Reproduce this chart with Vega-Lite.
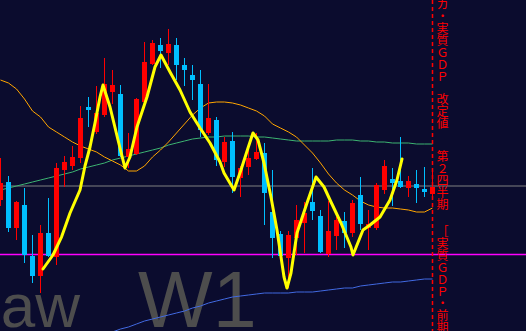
{
  "$schema": "https://vega.github.io/schema/vega-lite/v6.json",
  "width": 526,
  "height": 331,
  "padding": 0,
  "autosize": {"type": "none"},
  "background": "#0b0c2e",
  "config": {"view": {"stroke": null}, "scale": {"continuousPadding": 0}},
  "datasets": {
    "candles": [
      {"i":0,"open":140.00,"high":142.10,"low":139.70,"close":140.85},
      {"i":1,"open":140.90,"high":141.20,"low":138.40,"close":138.60},
      {"i":2,"open":138.60,"high":139.95,"low":138.00,"close":139.90},
      {"i":3,"open":139.75,"high":140.60,"low":136.85,"close":137.25},
      {"i":4,"open":137.20,"high":138.25,"low":135.85,"close":136.20},
      {"i":5,"open":136.20,"high":138.75,"low":135.35,"close":138.35},
      {"i":6,"open":138.35,"high":140.10,"low":137.15,"close":137.20},
      {"i":7,"open":137.15,"high":141.85,"low":136.75,"close":141.60},
      {"i":8,"open":141.50,"high":142.20,"low":140.65,"close":141.90},
      {"i":9,"open":141.70,"high":142.70,"low":141.50,"close":142.15},
      {"i":10,"open":142.10,"high":144.70,"low":141.85,"close":144.10},
      {"i":11,"open":144.65,"high":145.15,"low":143.65,"close":144.50},
      {"i":12,"open":143.40,"high":145.70,"low":143.30,"close":144.35},
      {"i":13,"open":144.25,"high":147.10,"low":144.15,"close":145.80},
      {"i":14,"open":145.40,"high":146.50,"low":144.80,"close":145.75},
      {"i":15,"open":145.30,"high":145.75,"low":142.15,"close":142.20},
      {"i":16,"open":142.15,"high":143.35,"low":141.60,"close":142.55},
      {"i":17,"open":142.30,"high":145.10,"low":142.25,"close":145.05},
      {"i":18,"open":144.90,"high":147.90,"low":144.75,"close":146.90},
      {"i":19,"open":146.80,"high":148.00,"low":146.75,"close":147.85},
      {"i":20,"open":147.75,"high":148.10,"low":146.60,"close":147.45},
      {"i":21,"open":147.35,"high":148.55,"low":146.75,"close":147.80},
      {"i":22,"open":147.75,"high":148.10,"low":146.00,"close":146.75},
      {"i":23,"open":146.75,"high":147.10,"low":145.70,"close":146.50},
      {"i":24,"open":146.25,"high":146.75,"low":145.00,"close":146.00},
      {"i":25,"open":145.80,"high":146.50,"low":143.15,"close":143.50},
      {"i":26,"open":143.35,"high":145.80,"low":143.25,"close":144.10},
      {"i":27,"open":144.00,"high":144.15,"low":141.70,"close":142.00},
      {"i":28,"open":141.90,"high":143.15,"low":141.65,"close":142.90},
      {"i":29,"open":142.95,"high":143.40,"low":140.35,"close":141.15},
      {"i":30,"open":141.10,"high":141.70,"low":140.15,"close":141.60},
      {"i":31,"open":141.65,"high":142.55,"low":141.25,"close":142.10},
      {"i":32,"open":142.05,"high":143.35,"low":142.00,"close":142.40},
      {"i":33,"open":142.35,"high":142.85,"low":138.75,"close":140.35},
      {"i":34,"open":139.40,"high":141.50,"low":137.10,"close":138.10},
      {"i":35,"open":138.30,"high":138.45,"low":137.10,"close":137.20},
      {"i":36,"open":137.10,"high":138.45,"low":135.60,"close":138.25},
      {"i":37,"open":138.10,"high":139.75,"low":137.25,"close":139.00},
      {"i":38,"open":138.85,"high":139.90,"low":137.35,"close":139.35},
      {"i":39,"open":139.90,"high":141.60,"low":139.00,"close":139.45},
      {"i":40,"open":139.20,"high":139.50,"low":137.35,"close":137.40},
      {"i":41,"open":137.30,"high":139.95,"low":137.15,"close":138.45},
      {"i":42,"open":138.20,"high":139.15,"low":137.50,"close":139.00},
      {"i":43,"open":138.95,"high":139.40,"low":137.60,"close":138.35},
      {"i":44,"open":138.35,"high":140.00,"low":138.15,"close":139.85},
      {"i":45,"open":140.25,"high":141.15,"low":138.50,"close":138.80},
      {"i":46,"open":138.60,"high":139.50,"low":137.50,"close":138.80},
      {"i":47,"open":138.60,"high":140.85,"low":138.50,"close":140.75},
      {"i":48,"open":140.50,"high":142.00,"low":140.30,"close":141.70},
      {"i":49,"open":141.05,"high":141.60,"low":139.70,"close":140.85},
      {"i":50,"open":140.95,"high":143.15,"low":140.60,"close":140.65},
      {"i":51,"open":140.60,"high":141.20,"low":140.15,"close":140.95},
      {"i":52,"open":140.80,"high":141.50,"low":139.85,"close":140.60},
      {"i":53,"open":140.55,"high":141.65,"low":140.15,"close":140.40},
      {"i":54,"open":140.30,"high":141.40,"low":140.20,"close":140.65}
    ],
    "ma": [
      {"i":0,"ma_short":146.00,"ma_mid":140.50,"ma_long":null},
      {"i":1,"ma_short":145.85,"ma_mid":140.60,"ma_long":null},
      {"i":2,"ma_short":145.55,"ma_mid":140.70,"ma_long":null},
      {"i":3,"ma_short":145.05,"ma_mid":140.80,"ma_long":null},
      {"i":4,"ma_short":144.45,"ma_mid":140.90,"ma_long":null},
      {"i":5,"ma_short":144.15,"ma_mid":141.00,"ma_long":null},
      {"i":6,"ma_short":143.65,"ma_mid":141.10,"ma_long":null},
      {"i":7,"ma_short":143.40,"ma_mid":141.20,"ma_long":null},
      {"i":8,"ma_short":143.15,"ma_mid":141.30,"ma_long":null},
      {"i":9,"ma_short":142.90,"ma_mid":141.40,"ma_long":null},
      {"i":10,"ma_short":142.70,"ma_mid":141.55,"ma_long":null},
      {"i":11,"ma_short":142.55,"ma_mid":141.65,"ma_long":null},
      {"i":12,"ma_short":142.40,"ma_mid":141.75,"ma_long":null},
      {"i":13,"ma_short":142.15,"ma_mid":141.85,"ma_long":133.20},
      {"i":14,"ma_short":141.95,"ma_mid":142.00,"ma_long":133.40},
      {"i":15,"ma_short":141.75,"ma_mid":142.10,"ma_long":133.55},
      {"i":16,"ma_short":141.45,"ma_mid":142.20,"ma_long":133.65},
      {"i":17,"ma_short":141.45,"ma_mid":142.30,"ma_long":133.80},
      {"i":18,"ma_short":141.70,"ma_mid":142.40,"ma_long":133.95},
      {"i":19,"ma_short":142.15,"ma_mid":142.50,"ma_long":134.05},
      {"i":20,"ma_short":142.50,"ma_mid":142.60,"ma_long":134.15},
      {"i":21,"ma_short":142.90,"ma_mid":142.75,"ma_long":134.25},
      {"i":22,"ma_short":143.35,"ma_mid":142.85,"ma_long":134.35},
      {"i":23,"ma_short":143.80,"ma_mid":142.95,"ma_long":134.45},
      {"i":24,"ma_short":144.25,"ma_mid":143.05,"ma_long":134.60},
      {"i":25,"ma_short":144.60,"ma_mid":143.10,"ma_long":134.70},
      {"i":26,"ma_short":144.85,"ma_mid":143.15,"ma_long":134.85},
      {"i":27,"ma_short":144.90,"ma_mid":143.15,"ma_long":134.95},
      {"i":28,"ma_short":144.90,"ma_mid":143.20,"ma_long":135.05},
      {"i":29,"ma_short":144.85,"ma_mid":143.20,"ma_long":135.15},
      {"i":30,"ma_short":144.75,"ma_mid":143.20,"ma_long":135.20},
      {"i":31,"ma_short":144.60,"ma_mid":143.20,"ma_long":135.25},
      {"i":32,"ma_short":144.45,"ma_mid":143.15,"ma_long":135.30},
      {"i":33,"ma_short":144.20,"ma_mid":143.15,"ma_long":135.35},
      {"i":34,"ma_short":143.80,"ma_mid":143.10,"ma_long":135.35},
      {"i":35,"ma_short":143.60,"ma_mid":143.05,"ma_long":135.35},
      {"i":36,"ma_short":143.40,"ma_mid":143.00,"ma_long":135.35},
      {"i":37,"ma_short":143.15,"ma_mid":142.95,"ma_long":135.40},
      {"i":38,"ma_short":142.75,"ma_mid":142.95,"ma_long":135.40},
      {"i":39,"ma_short":142.35,"ma_mid":142.95,"ma_long":135.40},
      {"i":40,"ma_short":141.85,"ma_mid":142.95,"ma_long":135.45},
      {"i":41,"ma_short":141.30,"ma_mid":142.95,"ma_long":135.50},
      {"i":42,"ma_short":140.85,"ma_mid":143.00,"ma_long":135.55},
      {"i":43,"ma_short":140.50,"ma_mid":143.00,"ma_long":135.60},
      {"i":44,"ma_short":140.25,"ma_mid":143.00,"ma_long":135.60},
      {"i":45,"ma_short":139.95,"ma_mid":142.95,"ma_long":135.70},
      {"i":46,"ma_short":139.75,"ma_mid":142.95,"ma_long":135.75},
      {"i":47,"ma_short":139.65,"ma_mid":142.90,"ma_long":135.80},
      {"i":48,"ma_short":139.60,"ma_mid":142.90,"ma_long":135.85},
      {"i":49,"ma_short":139.60,"ma_mid":142.85,"ma_long":135.90},
      {"i":50,"ma_short":139.55,"ma_mid":142.85,"ma_long":135.90},
      {"i":51,"ma_short":139.50,"ma_mid":142.85,"ma_long":135.95},
      {"i":52,"ma_short":139.40,"ma_mid":142.80,"ma_long":136.00},
      {"i":53,"ma_short":139.40,"ma_mid":142.80,"ma_long":136.05},
      {"i":54,"ma_short":139.60,"ma_mid":142.80,"ma_long":136.05}
    ],
    "zigzag": [
      {"i":5.31,"p":136.55},{"i":6.56,"p":137.25},{"i":7.65,"p":138.17},{"i":8.69,"p":139.35},
      {"i":9.94,"p":140.50},{"i":10.56,"p":141.70},{"i":11.19,"p":142.65},{"i":11.81,"p":143.85},
      {"i":12.44,"p":145.15},{"i":12.81,"p":145.75},{"i":13.69,"p":144.65},{"i":14.69,"p":143.00},
      {"i":15.56,"p":141.60},{"i":16.19,"p":142.15},{"i":17.06,"p":143.65},{"i":18.31,"p":145.15},
      {"i":19.31,"p":146.65},{"i":20.06,"p":147.25},{"i":21.19,"p":146.40},{"i":22.44,"p":145.50},
      {"i":23.69,"p":144.40},{"i":24.94,"p":143.60},{"i":26.19,"p":142.85},{"i":27.44,"p":141.90},
      {"i":27.94,"p":141.35},{"i":29.19,"p":140.50},{"i":30.06,"p":141.50},{"i":30.94,"p":142.60},
      {"i":31.56,"p":143.35},{"i":32.19,"p":143.00},{"i":32.94,"p":141.85},{"i":33.81,"p":140.15},
      {"i":34.56,"p":138.50},{"i":35.44,"p":136.15},{"i":35.81,"p":135.60},{"i":36.31,"p":136.35},
      {"i":37.06,"p":138.35},{"i":38.31,"p":139.85},{"i":39.44,"p":141.15},{"i":40.44,"p":140.65},
      {"i":41.31,"p":139.90},{"i":42.56,"p":138.85},{"i":43.81,"p":137.65},{"i":44.06,"p":137.25},
      {"i":45.31,"p":138.50},{"i":46.19,"p":138.75},{"i":47.44,"p":139.15},{"i":48.69,"p":140.00},
      {"i":49.56,"p":141.00},{"i":50.19,"p":142.05}
    ],
    "levels": [{"name":"support","p":137.28},{"name":"pivot","p":140.70}],
    "event": [{"i":54}],
    "label": [
      {"i":55.25,"p":151.80,"t":"ア|メ|リ|カ|・|実|質|Ｇ|Ｄ|Ｐ"},
      {"i":55.25,"p":145.25,"t":"改|定|値"},
      {"i":55.25,"p":142.40,"t":"第|２|四|半|期"},
      {"i":55.25,"p":138.65,"t":"［|実|質|Ｇ|Ｄ|Ｐ|・|前|期|比|年|率|］"}
    ],
    "watermark": [{"t":"aw","i":9.94,"p":133.65},{"t":"W1","i":17.2,"p":133.65}]
  },
  "layer": [
    {
      "data": {"name": "watermark"},
      "transform": [{"filter": "datum.t === 'aw'"}],
      "mark": {"type": "text", "font": "Liberation Sans", "fontSize": 62, "color": "#4d4d4d", "align": "right", "baseline": "alphabetic", "clip": true},
      "encoding": {
        "x": {"field": "i", "type": "quantitative", "scale": {"domain": [-0.0625, 65.6875], "nice": false, "zero": false, "padding": 0}, "axis": null},
        "y": {"field": "p", "type": "quantitative", "scale": {"domain": [133.45, 150], "nice": false, "zero": false, "padding": 0}, "axis": null},
        "text": {"field": "t"}
      }
    },
    {
      "data": {"name": "watermark"},
      "transform": [{"filter": "datum.t === 'W1'"}],
      "mark": {"type": "text", "font": "Liberation Sans", "fontSize": 79, "color": "#4d4d4d", "align": "left", "baseline": "alphabetic", "clip": true},
      "encoding": {
        "x": {"field": "i", "type": "quantitative", "scale": {"domain": [-0.0625, 65.6875], "nice": false, "zero": false, "padding": 0}, "axis": null},
        "y": {"field": "p", "type": "quantitative", "scale": {"domain": [133.45, 150], "nice": false, "zero": false, "padding": 0}, "axis": null},
        "text": {"field": "t"}
      }
    },
    {
      "data": {"name": "levels"},
      "transform": [{"filter": "datum.name === 'support'"}],
      "mark": {"type": "rule", "color": "#ff00ff", "strokeWidth": 1.5},
      "encoding": {
        "y": {"field": "p", "type": "quantitative", "scale": {"domain": [133.45, 150], "nice": false, "zero": false, "padding": 0}, "axis": null}
      }
    },
    {
      "data": {"name": "levels"},
      "transform": [{"filter": "datum.name === 'pivot'"}],
      "mark": {"type": "rule", "color": "#808080", "strokeWidth": 1},
      "encoding": {
        "y": {"field": "p", "type": "quantitative", "scale": {"domain": [133.45, 150], "nice": false, "zero": false, "padding": 0}, "axis": null}
      }
    },
    {
      "data": {"name": "ma"},
      "mark": {"type": "line", "color": "#4169e1", "strokeWidth": 1, "clip": true},
      "encoding": {
        "x": {"field": "i", "type": "quantitative", "scale": {"domain": [-0.0625, 65.6875], "nice": false, "zero": false, "padding": 0}, "axis": null},
        "y": {"field": "ma_long", "type": "quantitative", "scale": {"domain": [133.45, 150], "nice": false, "zero": false, "padding": 0}, "axis": null}
      }
    },
    {
      "data": {"name": "ma"},
      "mark": {"type": "line", "color": "#3cb371", "strokeWidth": 1, "clip": true},
      "encoding": {
        "x": {"field": "i", "type": "quantitative", "scale": {"domain": [-0.0625, 65.6875], "nice": false, "zero": false, "padding": 0}, "axis": null},
        "y": {"field": "ma_mid", "type": "quantitative", "scale": {"domain": [133.45, 150], "nice": false, "zero": false, "padding": 0}, "axis": null}
      }
    },
    {
      "data": {"name": "ma"},
      "mark": {"type": "line", "color": "#ffa500", "strokeWidth": 1, "clip": true},
      "encoding": {
        "x": {"field": "i", "type": "quantitative", "scale": {"domain": [-0.0625, 65.6875], "nice": false, "zero": false, "padding": 0}, "axis": null},
        "y": {"field": "ma_short", "type": "quantitative", "scale": {"domain": [133.45, 150], "nice": false, "zero": false, "padding": 0}, "axis": null}
      }
    },
    {
      "data": {"name": "candles"},
      "mark": {"type": "rule", "strokeWidth": 1, "clip": true},
      "encoding": {
        "x": {"field": "i", "type": "quantitative", "scale": {"domain": [-0.0625, 65.6875], "nice": false, "zero": false, "padding": 0}, "axis": null},
        "y": {"field": "low", "type": "quantitative", "scale": {"domain": [133.45, 150], "nice": false, "zero": false, "padding": 0}, "axis": null},
        "y2": {"field": "high"},
        "color": {"condition": {"test": "datum.close > datum.open", "value": "#ff0000"}, "value": "#00bfff"}
      }
    },
    {
      "data": {"name": "candles"},
      "mark": {"type": "bar", "size": 5, "clip": true},
      "encoding": {
        "x": {"field": "i", "type": "quantitative", "scale": {"domain": [-0.0625, 65.6875], "nice": false, "zero": false, "padding": 0}, "axis": null},
        "y": {"field": "open", "type": "quantitative", "scale": {"domain": [133.45, 150], "nice": false, "zero": false, "padding": 0}, "axis": null},
        "y2": {"field": "close"},
        "color": {"condition": {"test": "datum.close > datum.open", "value": "#ff0000"}, "value": "#00bfff"}
      }
    },
    {
      "data": {"name": "zigzag"},
      "mark": {"type": "line", "color": "#ffff00", "strokeWidth": 3, "strokeJoin": "round", "strokeCap": "round", "clip": true},
      "encoding": {
        "x": {"field": "i", "type": "quantitative", "scale": {"domain": [-0.0625, 65.6875], "nice": false, "zero": false, "padding": 0}, "axis": null},
        "y": {"field": "p", "type": "quantitative", "scale": {"domain": [133.45, 150], "nice": false, "zero": false, "padding": 0}, "axis": null}
      }
    },
    {
      "data": {"name": "event"},
      "mark": {"type": "rule", "color": "#ff0000", "strokeWidth": 1.5, "strokeDash": [4, 3]},
      "encoding": {
        "x": {"field": "i", "type": "quantitative", "scale": {"domain": [-0.0625, 65.6875], "nice": false, "zero": false, "padding": 0}, "axis": null}
      }
    },
    {
      "data": {"name": "label"},
      "mark": {"type": "text", "font": "Noto Sans CJK JP", "fontSize": 12, "lineHeight": 12, "lineBreak": "|", "color": "#ff0000", "align": "center", "baseline": "top", "clip": true},
      "encoding": {
        "x": {"field": "i", "type": "quantitative", "scale": {"domain": [-0.0625, 65.6875], "nice": false, "zero": false, "padding": 0}, "axis": null},
        "y": {"field": "p", "type": "quantitative", "scale": {"domain": [133.45, 150], "nice": false, "zero": false, "padding": 0}, "axis": null},
        "text": {"field": "t"}
      }
    }
  ]
}
